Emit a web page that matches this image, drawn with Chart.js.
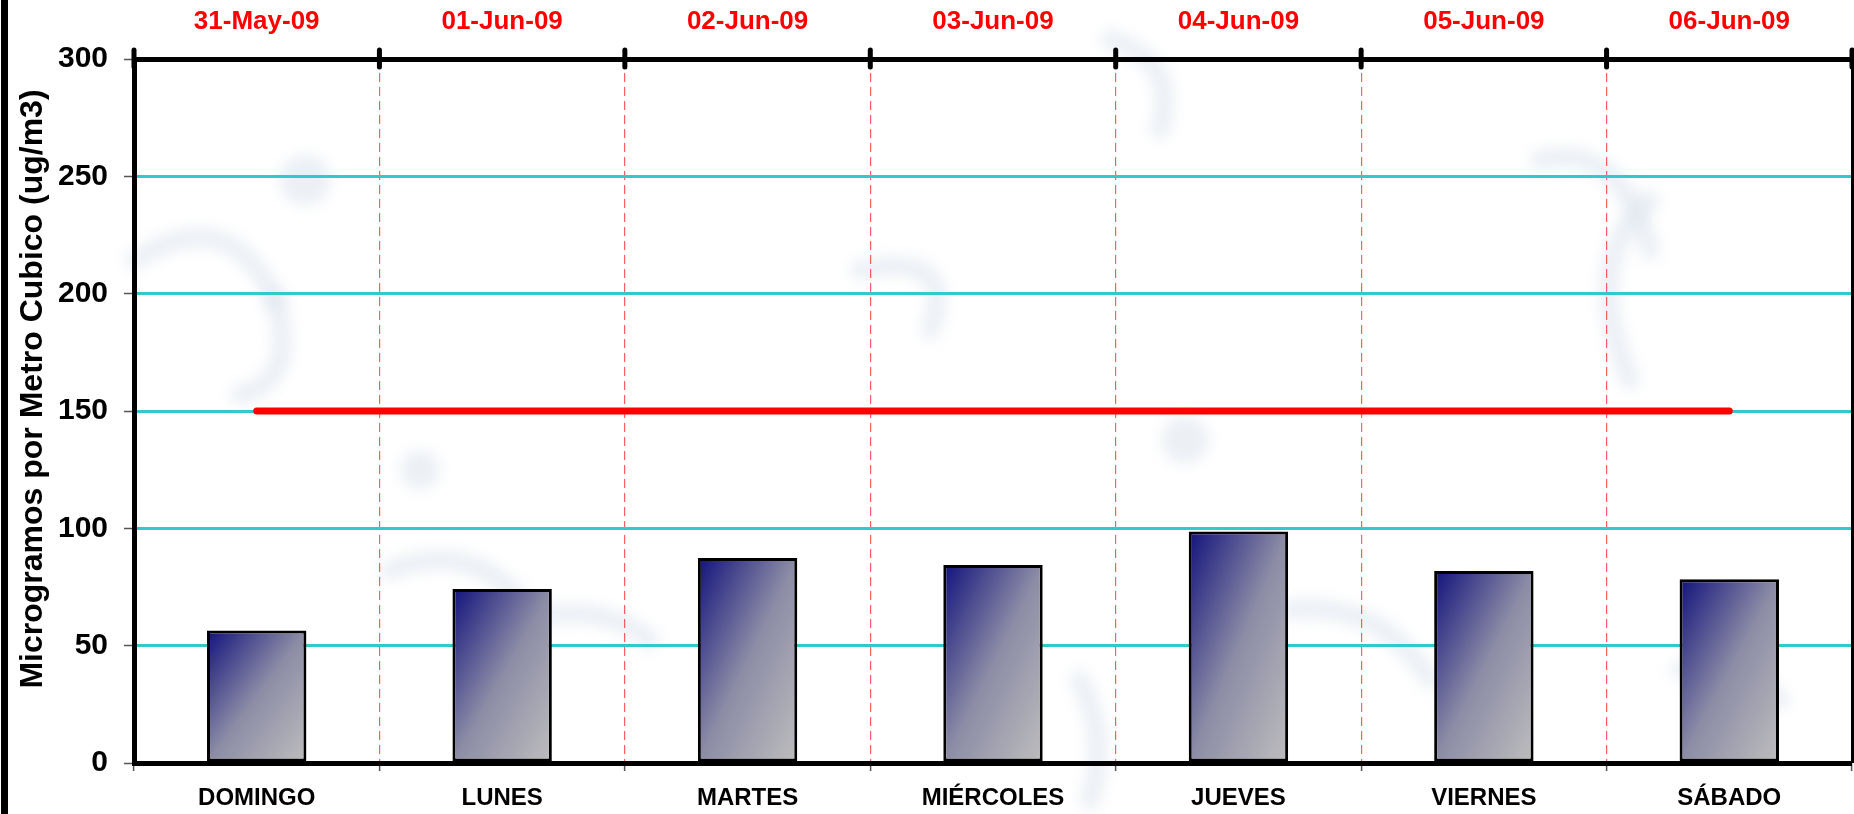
<!DOCTYPE html>
<html>
<head>
<meta charset="utf-8">
<script src="https://cdn.jsdelivr.net/npm/chart.js@4.4.1/dist/chart.umd.min.js"></script>
<style>
    html, body { margin: 0; padding: 0; background: #fff; }
    #wrap { width: 1854px; height: 814px; position: relative; }
</style>
</head>
<body>
<div id="wrap"><canvas id="pm10Chart"></canvas></div>
<script>
// Chart data
const days = ['DOMINGO', 'LUNES', 'MARTES', 'MIÉRCOLES', 'JUEVES', 'VIERNES', 'SÁBADO'];
const dates = ['31-May-09', '01-Jun-09', '02-Jun-09', '03-Jun-09', '04-Jun-09', '05-Jun-09', '06-Jun-09'];
const pm10 = [56.5, 74.1, 87.4, 84.4, 98.7, 81.8, 78.3];
const limitLine = [150, 150, 150, 150, 150, 150, 150];
const yTicks = [0, 50, 100, 150, 200, 250, 300];
const yTitle = 'Microgramos por Metro Cubico (ug/m3)';

const FONT = "'Liberation Sans', Arial, sans-serif";
const BAR_PCT = 0.405;

// Diagonal gradient (top-left dark navy -> bottom-right grey), per bar box
function barGradient(ctx) {
    if (ctx.type !== 'data') return '#6a6a9a';
    const chart = ctx.chart;
    const xs = chart.scales.x, ys = chart.scales.y;
    if (!xs || !ys || !chart.chartArea) return '#6a6a9a';
    const cx = xs.getPixelForValue(ctx.dataIndex);
    const w = (xs.width / days.length) * BAR_PCT;
    const top = ys.getPixelForValue(ctx.parsed.y);
    const h = ys.getPixelForValue(0) - top;
    const left = cx - w / 2;
    const k = (2 * w * h) / (w * w + h * h);
    const g = chart.ctx.createLinearGradient(left, top, left + k * h, top + k * w);
    g.addColorStop(0, '#12127c');
    g.addColorStop(0.5, '#8c8ca6');
    g.addColorStop(1, '#bebebe');
    return g;
}

// Faint background swirls + left frame strip
const backdrop = {
    id: 'backdrop',
    beforeDraw(chart) {
        const c = chart.ctx;
        c.save();
        c.fillStyle = '#ffffff';
        c.fillRect(0, 0, chart.width, chart.height);
        c.filter = 'blur(7px)';
        c.strokeStyle = 'rgba(218, 226, 235, 0.5)';
        c.lineCap = 'round';
        c.lineWidth = 20;
        const swirls = [
            [[135, 260], [230, 200], [275, 300]],
            [[275, 300], [300, 380], [240, 395]],
            [[860, 270], [960, 250], [930, 330]],
            [[1110, 40], [1180, 60], [1160, 130]],
            [[1540, 160], [1620, 140], [1650, 250]],
            [[1650, 200], [1580, 260], [1630, 380]],
            [[390, 570], [470, 540], [520, 600]],
            [[520, 620], [600, 600], [650, 640]],
            [[1290, 610], [1380, 600], [1430, 680]],
            [[1080, 680], [1110, 740], [1090, 800]],
            [[1680, 670], [1730, 650], [1780, 700]]
        ];
        swirls.forEach(s => {
            c.beginPath();
            c.moveTo(s[0][0], s[0][1]);
            c.quadraticCurveTo(s[1][0], s[1][1], s[2][0], s[2][1]);
            c.stroke();
        });
        c.fillStyle = 'rgba(218, 226, 235, 0.5)';
        [[305, 180, 26], [1185, 440, 24], [420, 470, 20]].forEach(b => {
            c.beginPath();
            c.arc(b[0], b[1], b[2], 0, Math.PI * 2);
            c.fill();
        });
        c.restore();
        c.fillStyle = '#000';
        c.fillRect(1, 0, 7, chart.height);
    }
};

// Top-axis tick marks that cross the axis line, right frame line, y title
const frame = {
    id: 'frame',
    afterDraw(chart) {
        const c = chart.ctx;
        const xs = chart.scales.x;
        const area = chart.chartArea;
        const step = xs.width / days.length;
        c.save();
        c.strokeStyle = '#000';
        c.lineWidth = 3;
        c.beginPath();
        c.moveTo(area.right + 0.5, area.top - 10);
        c.lineTo(area.right + 0.5, area.bottom);
        c.stroke();
        c.lineWidth = 5;
        c.lineCap = 'round';
        for (let i = 0; i <= days.length; i++) {
            const px = xs.getPixelForValue(i) - step / 2;
            c.beginPath();
            c.moveTo(px, area.top - 9);
            c.lineTo(px, area.top + 8);
            c.stroke();
        }
        // axis title sits a little above the axis centre in the original
        c.translate(42, (area.top + area.bottom) / 2 - 22);
        c.rotate(-Math.PI / 2);
        c.fillStyle = '#000';
        c.font = 'bold 32px ' + FONT;
        c.textAlign = 'center';
        c.textBaseline = 'alphabetic';
        c.fillText(yTitle, 0, 0);
        c.restore();
    }
};

const canvas = document.getElementById('pm10Chart');
new Chart(canvas, {
    type: 'bar',
    data: {
        labels: days,
        datasets: [
            {
                type: 'line',
                label: 'Norma',
                data: limitLine,
                borderColor: '#ff0000',
                borderWidth: 7,
                borderCapStyle: 'round',
                pointRadius: 0,
                fill: false,
                order: 0
            },
            {
                label: 'PM10',
                data: pm10,
                backgroundColor: barGradient,
                borderColor: '#000000',
                borderWidth: 3,
                borderSkipped: false,
                barPercentage: BAR_PCT,
                categoryPercentage: 1,
                order: 1
            }
        ]
    },
    options: {
        responsive: true,
        maintainAspectRatio: false,
        animation: false,
        layout: { padding: { left: 8, right: 2, top: 0, bottom: 0 } },
        plugins: {
            legend: { display: false },
            tooltip: { enabled: false }
        },
        scales: {
            x: {
                position: 'bottom',
                offset: true,
                grid: {
                    offset: true,
                    color: (ctx) => (ctx.type === 'tick' && ctx.index > 0) ? 'rgba(255, 40, 40, 0.75)' : 'rgba(0,0,0,0)',
                    lineWidth: 1.2,
                    tickColor: '#555',
                    tickLength: 8,
                    tickWidth: 1.5
                },
                border: { display: true, color: '#000', width: 5, dash: [9, 5] },
                ticks: {
                    color: '#000',
                    font: { family: FONT, size: 24, weight: 'bold' },
                    padding: 13,
                    maxRotation: 0
                },
                afterFit: (s) => { s.height = 51; }
            },
            x2: {
                type: 'category',
                position: 'top',
                labels: dates,
                offset: true,
                grid: { display: false, drawTicks: false, drawOnChartArea: false },
                border: { display: true, color: '#000', width: 5 },
                ticks: {
                    color: '#ff0000',
                    font: { family: FONT, size: 26, weight: 'bold' },
                    padding: 22,
                    maxRotation: 0
                },
                afterFit: (s) => { s.height = 59; }
            },
            y: {
                min: 0,
                max: 300,
                afterBuildTicks: (s) => { s.ticks = yTicks.map(v => ({ value: v })); },
                grid: {
                    color: (ctx) => (ctx.tick && ctx.tick.value > 0 && ctx.tick.value < 300) ? '#33c9c9' : 'rgba(0,0,0,0)',
                    lineWidth: 3,
                    tickColor: '#555',
                    tickLength: 10,
                    tickWidth: 1.5
                },
                border: { display: true, color: '#000', width: 5 },
                ticks: {
                    color: '#000',
                    font: { family: FONT, size: 30, weight: 'bold' },
                    padding: 16
                },
                title: { display: false },
                afterFit: (s) => { s.width = 126; }
            }
        }
    },
    plugins: [backdrop, frame]
});
</script>
</body>
</html>
